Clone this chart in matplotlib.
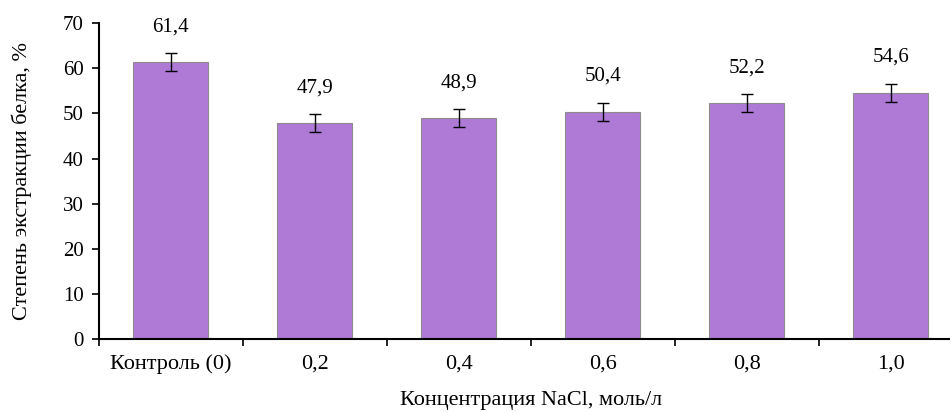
import numpy as np
import matplotlib
matplotlib.use("Agg")
from matplotlib import pyplot as plt

plt.rcParams['font.family'] = ['Liberation Serif', 'DejaVu Serif']

categories = ["Контроль (0)", "0,2", "0,4", "0,6", "0,8", "1,0"]
values = [61.4, 47.9, 48.9, 50.4, 52.2, 54.6]
errors = [2.0, 2.0, 2.0, 2.0, 2.0, 2.0]
labels = ["61,4", "47,9", "48,9", "50,4", "52,2", "54,6"]

fig = plt.figure(figsize=(9.5, 4.12), dpi=100)
ax = fig.add_axes([0.104, 0.177, 0.9095, 0.767])

x = np.arange(len(categories))
ax.bar(x, values, width=0.52, color="#AF7AD6", edgecolor="#8c8c8c", linewidth=0.8,
       yerr=errors, error_kw=dict(ecolor="black", elinewidth=1, capsize=4, capthick=1))

for xi, v, e, lab in zip(x, values, errors, labels):
    ax.annotate(lab, (xi, v + e), xytext=(0, 12), textcoords="offset points",
                ha="center", va="bottom", fontsize=15)

ax.set_xlim(-0.5, len(categories) - 0.5)
ax.set_ylim(0, 70)
ax.set_yticks(range(0, 71, 10))
ax.set_xticks(x)
ax.set_xticklabels(categories, fontsize=16)
ax.set_xticks(np.arange(-0.5, len(categories), 1), minor=True)
ax.tick_params(axis="x", which="major", length=0, pad=11)
ax.tick_params(axis="x", which="minor", length=5, direction="out", width=1.2)
ax.tick_params(axis="y", length=5, direction="out", width=1.2, labelsize=15, pad=6)

for s in ["top", "right"]:
    ax.spines[s].set_visible(False)
for s in ["left", "bottom"]:
    ax.spines[s].set_linewidth(1.5)

ax.set_ylabel("Степень экстракции белка, %", fontsize=16)
ax.yaxis.set_label_coords(-0.077, 0.5)
ax.set_xlabel("Концентрация NaCl, моль/л", fontsize=16, labelpad=12)

fig.savefig("out.png", dpi=100)
